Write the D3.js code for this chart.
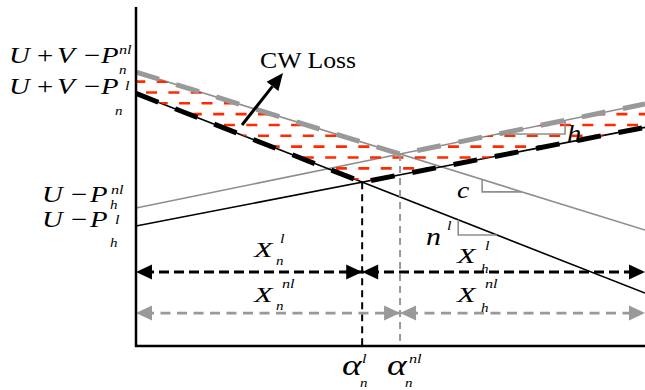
<!DOCTYPE html>
<html><head><meta charset="utf-8">
<script src="https://cdn.jsdelivr.net/npm/d3@7"></script>
<style>html,body{margin:0;padding:0;background:#fff}svg{display:block}</style>
</head><body>
<svg id="chart" width="645" height="390"></svg>
<script>
// Cost lines, each given by its value at the left (x=0) and right (x=100) edge.
const edgeX = [0, 100];
const grayDown = [80.8, 34.2];   // U + V − P_n^nl
const blackDown = [74.5, 15.6];  // U + V − P_n^l
const grayUp = [40.7, 71.4];     // U − P_h^nl
const blackUp = [35.4, 64.5];    // U − P_h^l
// Levels of the hatch rows filling the CW loss band
const hatchLevels = [78.0, 74.8, 71.6, 68.4, 65.2, 62.0, 58.8, 55.6, 52.4, 49.2];
// Levels of the two span arrows (l and nl)
const spanLevels = [21.8, 9.7];
// Slope-triangle x ranges
const triN = [63.3, 70.9];
const triC = [68.0, 75.8];
const triH = [71.1, 84.3];

const leftLabels = [
  {base: ["U", "+", "V", "−", "P"], sup: "nl", sub: "n"},
  {base: ["U", "+", "V", "−", "P"], sup: "l", sub: "n"},
  {base: ["U", "−", "P"], sup: "nl", sub: "h"},
  {base: ["U", "−", "P"], sup: "l", sub: "h"}
];
const spanLabels = [
  {base: "X", sup: "l", sub: "n"}, {base: "X", sup: "nl", sub: "n"},
  {base: "X", sup: "l", sub: "h"}, {base: "X", sup: "nl", sub: "h"}
];
const alphaLabels = [{base: "α", sup: "l", sub: "n"}, {base: "α", sup: "nl", sub: "n"}];
const lossTitle = "CW Loss";

const FONT = "'Liberation Serif', 'Times New Roman', serif";
const RED = "#ff2a00", GRAY = "#999999", THIN_GRAY = "#8e8e8e";

const svg = d3.select("#chart");
const x = d3.scaleLinear().domain([0, 100]).range([136, 645]);
const y = d3.scaleLinear().domain([0, 100]).range([346, 7]);

const at = (ln, u) => ln[0] + (ln[1] - ln[0]) * (u - edgeX[0]) / (edgeX[1] - edgeX[0]);
function cross(a, b) {
  const sa = (a[1] - a[0]) / (edgeX[1] - edgeX[0]), sb = (b[1] - b[0]) / (edgeX[1] - edgeX[0]);
  const u = (b[0] - a[0]) / (sa - sb);
  return [u, at(a, u)];
}
const alphaL = cross(blackDown, blackUp);
const alphaNl = cross(grayDown, grayUp);

const line = d3.line().x(d => x(d[0])).y(d => y(d[1]));

// Envelopes
const grayEnv = [[0, grayDown[0]], alphaNl, [100, grayUp[1]]];
const blackEnv = [[0, blackDown[0]], alphaL, [100, blackUp[1]]];

// Clip region between the two envelopes
const defs = svg.append("defs");
defs.append("clipPath").attr("id", "band")
  .append("path").attr("d", line(grayEnv.concat(blackEnv.slice().reverse())) + "Z");

// Thin lines
[[grayDown, THIN_GRAY], [grayUp, THIN_GRAY], [blackDown, "#000"], [blackUp, "#000"]].forEach(([ln, col]) => {
  svg.append("path").attr("d", line([[0, ln[0]], [100, ln[1]]]))
    .attr("fill", "none").attr("stroke", col).attr("stroke-width", 1.6);
});

// Hatch rows (alternating dash phase)
const hatch = svg.append("g").attr("clip-path", "url(#band)");
hatchLevels.forEach((lv, i) => {
  hatch.append("line")
    .attr("x1", x(0)).attr("x2", x(100)).attr("y1", y(lv)).attr("y2", y(lv))
    .attr("stroke", RED).attr("stroke-width", 2.6)
    .attr("stroke-dasharray", "11,11.4")
    .attr("stroke-dashoffset", i % 2 === 0 ? 1.7 : 12.4);
});

// Thick dashed envelopes
svg.append("path").attr("d", line(grayEnv)).attr("fill", "none")
  .attr("stroke", GRAY).attr("stroke-width", 5).attr("stroke-dasharray", "24,18");
svg.append("path").attr("d", line(blackEnv)).attr("fill", "none")
  .attr("stroke", "#000").attr("stroke-width", 5).attr("stroke-dasharray", "24,18");

// Vertical markers at the crossing points
svg.append("line").attr("x1", x(alphaL[0])).attr("x2", x(alphaL[0]))
  .attr("y1", y(alphaL[1])).attr("y2", y(0))
  .attr("stroke", "#000").attr("stroke-width", 2).attr("stroke-dasharray", "7,5");
svg.append("line").attr("x1", x(alphaNl[0])).attr("x2", x(alphaNl[0]))
  .attr("y1", y(alphaNl[1])).attr("y2", y(0))
  .attr("stroke", GRAY).attr("stroke-width", 2).attr("stroke-dasharray", "7,5");

// Slope triangles
function slopeTri(ln, r, rising) {
  const [u1, u2] = r;
  let pts;
  if (rising) pts = [[u1, at(ln, u1)], [u2, at(ln, u1)], [u2, at(ln, u2)]];
  else pts = [[u1, at(ln, u1)], [u1, at(ln, u2)], [u2, at(ln, u2)]];
  svg.append("path").attr("d", line(pts)).attr("fill", "none")
    .attr("stroke", THIN_GRAY).attr("stroke-width", 1.6);
}
slopeTri(blackDown, triN, false);
slopeTri(grayDown, triC, false);
slopeTri(grayUp, triH, true);

// Span arrows
function head(px, py, dir, col) {
  const L = 16, H = 7.5;
  svg.append("path")
    .attr("d", `M${px},${py}L${px - dir * L},${py - H}L${px - dir * L},${py + H}Z`)
    .attr("fill", col);
}
function span(level, splitU, col, dash, w) {
  const py = y(level), a = x(0), m = x(splitU), b = x(100);
  svg.append("line").attr("x1", a + 8).attr("x2", b - 8).attr("y1", py).attr("y2", py)
    .attr("stroke", col).attr("stroke-width", w).attr("stroke-dasharray", dash);
  head(a, py, -1, col); head(m, py, 1, col); head(m, py, -1, col); head(b, py, 1, col);
}
span(spanLevels[0], alphaL[0], "#000", "10,5", 3);
span(spanLevels[1], alphaNl[0], GRAY, "10,6.5", 2.6);

// Axes
svg.append("line").attr("x1", x(0)).attr("x2", x(0)).attr("y1", y(100)).attr("y2", y(0) + 1)
  .attr("stroke", "#000").attr("stroke-width", 2.5);
svg.append("line").attr("x1", x(0) - 1).attr("x2", x(100)).attr("y1", y(0)).attr("y2", y(0))
  .attr("stroke", "#000").attr("stroke-width", 2.5);

// Text helper: glyphs are drawn slightly wide (sx = horizontal stretch)
function txt(t, px, py, size, italic, sx = 1) {
  return svg.append("text")
    .attr("transform", `translate(${px},${py}) scale(${sx},1)`)
    .attr("font-family", FONT)
    .attr("font-size", size).attr("font-style", italic ? "italic" : "normal").text(t);
}
function script(lab, sup, sub) {
  txt(lab.sup, sup[0], sup[1], 13, true, 1.25);
  txt(lab.sub, sub[0], sub[1], 12, true, 1.25);
}

// Loss pointer
const tip = [283, 73], tail = [242, 125];
{
  const dx = tip[0] - tail[0], dy = tip[1] - tail[1], len = Math.hypot(dx, dy);
  const ux = dx / len, uy = dy / len, L = 17, H = 7.5;
  const bx = tip[0] - ux * L, by = tip[1] - uy * L;
  svg.append("line").attr("x1", tail[0]).attr("y1", tail[1]).attr("x2", bx).attr("y2", by)
    .attr("stroke", "#000").attr("stroke-width", 3);
  svg.append("path").attr("d",
    `M${tip[0]},${tip[1]}L${bx - uy * H},${by + ux * H}L${bx + uy * H},${by - ux * H}Z`).attr("fill", "#000");
}
txt(lossTitle, 260, 68, 23, false, 1.12);

// Left axis labels
const longX = [9, 37, 57, 84, 101];
const shortX = [42, 71, 90];
const leftPos = [
  {xs: longX, y: 63, sup: [119, 54], sub: [119, 74]},
  {xs: longX, y: 94, sup: [125, 90], sub: [115, 115]},
  {xs: shortX, y: 202, sup: [111, 194], sub: [110, 209]},
  {xs: shortX, y: 227, sup: [115, 224], sub: [110, 247]}
];
leftLabels.forEach((lab, i) => {
  const p = leftPos[i];
  lab.base.forEach((g, j) => txt(g, p.xs[j], p.y, 23, /[A-Z]/.test(g), 1.25));
  script(lab, p.sup, p.sub);
});

// Span labels
const spanPos = [
  {b: [254, 257], sup: [280, 243], sub: [276, 265]},
  {b: [254, 302], sup: [282, 288], sub: [276, 310]},
  {b: [457, 263], sup: [485, 250], sub: [481, 273]},
  {b: [457, 302], sup: [485, 288], sub: [481, 312]}
];
spanLabels.forEach((lab, i) => {
  const p = spanPos[i];
  txt(lab.base, p.b[0], p.b[1], 21, true, 1.45);
  script(lab, p.sup, p.sub);
});

// Slope labels
txt("n", 426, 245, 26, true, 1.15);
txt("l", 447, 230, 13, true, 1.25);
txt("c", 457, 198, 24, true, 1.15);
txt("h", 567, 142, 26, true, 1.1);

// Crossing-point labels
const alphaPos = [
  {b: [342, 375], sup: [362, 363], sub: [360, 387]},
  {b: [387, 375], sup: [409, 363], sub: [405, 387]}
];
alphaLabels.forEach((lab, i) => {
  const p = alphaPos[i];
  txt(lab.base, p.b[0], p.b[1], 30, true, 1.25);
  script(lab, p.sup, p.sub);
});
</script></body></html>
